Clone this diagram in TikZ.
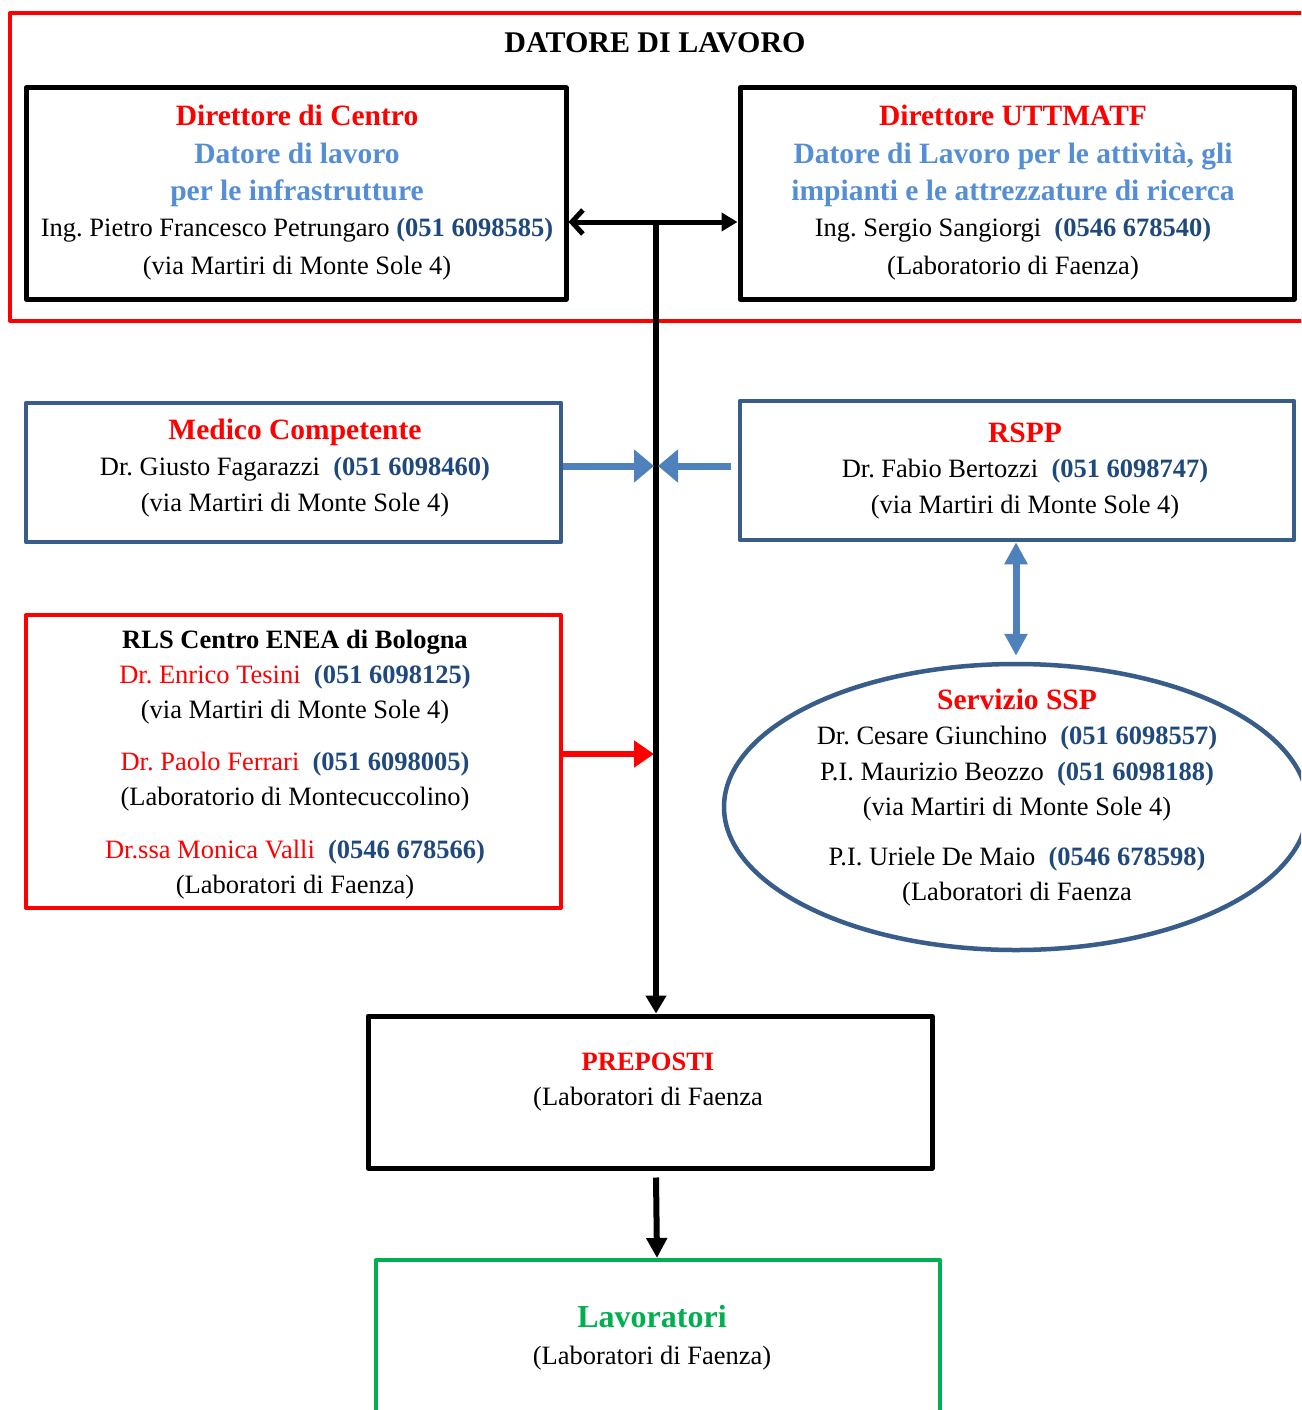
\documentclass[tikz,border=0pt]{standalone}
\usepackage{fontspec}
\setmainfont{Liberation Serif}
\usetikzlibrary{arrows.meta,shapes.geometric}
\definecolor{myred}{HTML}{FF0000}
\definecolor{mygreen}{HTML}{00B050}
\definecolor{lblue}{HTML}{558ED5}
\definecolor{numblue}{HTML}{1F497D}
\definecolor{boxblue}{HTML}{385D8A}
\definecolor{arrblue}{HTML}{4F81BD}
\frenchspacing
\newcommand\mtab[1]{\begin{tabular}[t]{@{}c@{}}#1\end{tabular}}
\newcommand\phn[1]{{\color{numblue}\bfseries #1}}
\newcommand\hdr[2]{{\fontsize{29.5}{36}\selectfont\bfseries\color{#1}#2}}
\begin{document}
\begin{tikzpicture}[x=1pt,y=-1pt,
  every node/.style={inner sep=0pt},
  boxbase/.style={draw, rectangle, line join=round},
  blackbox/.style={boxbase, line width=5pt, draw=black},
  bluebox/.style={boxbase, line width=4.5pt, draw=boxblue},
  redbox/.style={boxbase, line width=4pt, draw=myred},
  greenbox/.style={boxbase, line width=4pt, draw=mygreen},
  txt/.style={anchor=base, align=center},
  blackarrow/.style={line width=6pt, draw=black},
  bluearrow/.style={line width=7pt, draw=arrblue, -{Triangle[length=20pt,width=32pt]}},
]
\path[use as bounding box] (0,0) rectangle (1301,1410);
\clip (0,0) rectangle (1301,1410);
\fill[white] (0,0) rectangle (1301,1410);

% outer frame
\node[redbox, minimum width=1310pt, minimum height=308pt] (frame) at (665,167) {};
\node[txt] (title) at (655,53) {{\fontsize{30}{36}\selectfont\bfseries DATORE DI LAVORO}};

% boxes
\node[blackbox, minimum width=540pt, minimum height=211pt] (b1) at (296,193.5) {};
\node[blackbox, minimum width=554pt, minimum height=211pt] (b2) at (1017,193.5) {};
\node[bluebox, minimum width=535pt, minimum height=139pt] (med) at (293.5,472.5) {};
\node[bluebox, minimum width=554pt, minimum height=139pt] (rspp) at (1017,470.5) {};
\node[redbox, minimum width=535pt, minimum height=293pt] (rls) at (293.5,761.5) {};
\node[ellipse, draw=boxblue, line width=4.5pt, minimum width=584pt, minimum height=286pt] (ssp) at (1016,807) {};
\node[blackbox, minimum width=564pt, minimum height=152pt] (pre) at (650,1092) {};
\node[greenbox, minimum width=564pt, minimum height=190pt] (lav) at (658,1355) {};

% texts
\begin{scope}[every node/.append style={font=\fontsize{26.5}{37}\selectfont}]
\node[txt] (b1t) at (297,126) {\mtab{\hdr{myred}{Direttore di Centro}\\
  \hdr{lblue}{Datore di lavoro}\\
  \hdr{lblue}{per le infrastrutture}\\
  Ing. Pietro Francesco Petrungaro \phn{(051 6098585)}\\
  (via Martiri di Monte Sole 4)}};
\node[txt] (b2t) at (1013,126) {\mtab{\hdr{myred}{Direttore UTTMATF}\\
  \hdr{lblue}{Datore di Lavoro per le attività, gli}\\
  \hdr{lblue}{impianti e le attrezzature di ricerca}\\
  Ing. Sergio Sangiorgi\ \ \phn{(0546 678540)}\\
  (Laboratorio di Faenza)}};
\end{scope}
\begin{scope}[every node/.append style={font=\fontsize{26.5}{36}\selectfont}]
\node[txt] (medt) at (295,439) {\mtab{\hdr{myred}{Medico Competente}\\
  Dr. Giusto Fagarazzi\ \ \phn{(051 6098460)}\\
  (via Martiri di Monte Sole 4)}};
\end{scope}
\begin{scope}[every node/.append style={font=\fontsize{26.5}{35.5}\selectfont}]
\node[txt] (rsppt) at (1025,442) {\mtab{\hdr{myred}{RSPP}\\
  Dr. Fabio Bertozzi\ \ \phn{(051 6098747)}\\
  (via Martiri di Monte Sole 4)}};
\node[txt] (sspt) at (1017,709) {\mtab{\hdr{myred}{Servizio SSP}\\
  Dr. Cesare Giunchino\ \ \phn{(051 6098557)}\\
  P.I. Maurizio Beozzo\ \ \phn{(051 6098188)}\\
  (via Martiri di Monte Sole 4)\\[14pt]
  P.I. Uriele De Maio\ \ \phn{(0546 678598)}\\
  (Laboratori di Faenza}};
\end{scope}
\begin{scope}[every node/.append style={font=\fontsize{26.5}{35}\selectfont}]
\node[txt] (rlst) at (295,648) {\mtab{{\bfseries RLS Centro ENEA di Bologna}\\
  {\color{myred}Dr. Enrico Tesini}\ \ \phn{(051 6098125)}\\
  (via Martiri di Monte Sole 4)\\[17pt]
  {\color{myred}Dr. Paolo Ferrari}\ \ \phn{(051 6098005)}\\
  (Laboratorio di Montecuccolino)\\[18pt]
  {\color{myred}Dr.ssa Monica Valli}\ \ \phn{(0546 678566)}\\
  (Laboratori di Faenza)}};
\node[txt] (pret) at (648,1070) {\mtab{{\bfseries\color{myred}PREPOSTI}\\
  (Laboratori di Faenza}};
\end{scope}
\begin{scope}[every node/.append style={font=\fontsize{26.5}{37}\selectfont}]
\node[txt] (lavt) at (652,1327) {\mtab{{\fontsize{32}{37}\selectfont\bfseries\color{mygreen}Lavoratori}\\
  (Laboratori di Faenza)}};
\end{scope}

% connectors
\coordinate (j) at (656,222);
\draw[blackarrow, line width=5pt, -{Straight Barb[length=11pt,width=24pt]}] (j) -- (j -| b1.east);
\draw[blackarrow, line width=5pt, -{Triangle[length=16pt,width=18pt]}] (j) -- (j -| b2.west);
\draw[blackarrow, -{Triangle[length=18pt,width=20pt]}] ([yshift=2.5pt]j) -- (j |- pre.north);

\coordinate (m) at (654,466);
\coordinate (mr) at (731,466);
\coordinate (mm) at (658,466);
\draw[bluearrow] (med.east |- m) -- (m);
\draw[bluearrow] (mr) -- (mm);

\coordinate (rr) at (654,754);
\draw[line width=6pt, draw=myred, -{Triangle[length=20pt,width=26pt]}] (rls.east |- rr) -- (rr);

\draw[line width=7pt, draw=arrblue, {Triangle[length=22pt,width=22pt]}-{Triangle[length=22pt,width=22pt]}]
  (rspp.south -| ssp.north) -- ([yshift=6pt]ssp.north);

\draw[blackarrow, -{Triangle[length=20pt,width=20pt]}] ([xshift=6pt,yshift=-7pt]pre.south) -- ([xshift=-1pt]lav.north);
\end{tikzpicture}
\end{document}
